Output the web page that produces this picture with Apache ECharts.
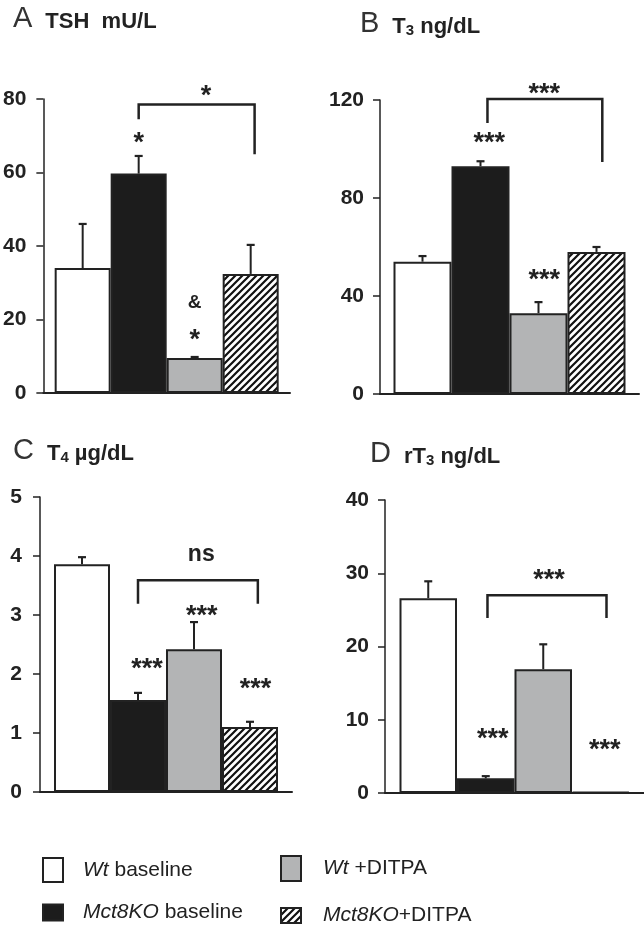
<!DOCTYPE html>
<html><head><meta charset="utf-8">
<script src="https://cdn.jsdelivr.net/npm/echarts@6/dist/echarts.min.js"></script>
<style>html,body{margin:0;padding:0;background:#fff}#c{width:644px;height:927px}</style>
</head><body><div id="c"></div>
<script>
// ---------- data ----------
const groups = ['Wt baseline', 'Mct8KO baseline', 'Wt +DITPA', 'Mct8KO+DITPA'];

const tshMean = [34, 59.7, 9.5, 32.4];
const tshSem  = [12, 4.8, 0.3, 7.9];
const t3Mean  = [54, 93, 33, 58];
const t3Sem   = [2.3, 2, 4.5, 2];
const t4Mean  = [3.86, 1.56, 2.42, 1.1];
const t4Sem   = [0.12, 0.12, 0.46, 0.09];
const rt3Mean = [26.6, 2.0, 16.9, 0.15];
const rt3Sem  = [2.3, 0.3, 3.4, 0];

// y-axis ranges [max, interval]
const tshAxis = [80, 20];
const t3Axis  = [120, 40];
const t4Axis  = [5, 1];
const rt3Axis = [40, 10];

// annotations: [bar position, y value, text]
const tshNotes = [[1, 69.7, '*'], [2.2, 82.7, '*'], [2, 24.5, '&'], [2, 16.3, '*']];
const t3Notes  = [[1.15, 105, '***'], [2.1, 125, '***'], [2.1, 49, '***']];
const t4Notes  = [[2.13, 4.02, 'ns'], [2.14, 3.1, '***'], [1.16, 2.2, '***'], [3.1, 1.85, '***']];
const rt3Notes = [[2.1, 30, '***'], [1.12, 8.3, '***'], [3.07, 6.7, '***']];

// brackets: [from bar pos, to bar pos, top y, left leg end y, right leg end y]
const tshBracket = [1, 3.07, 78.5, 74.5, 65];
const t3Bracket  = [1.12, 3.1, 120.4, 110.6, 94.7];
const t4Bracket  = [1, 3.14, 3.59, 3.19, 3.19];
const rt3Bracket = [1.03, 3.1, 27, 23.9, 23.9];

// ---------- styles ----------
const INK = '#222';
const FONT = '"Liberation Sans", Arial, Helvetica, sans-serif';

function hatch() {
  const s = 7, cv = document.createElement('canvas');
  cv.width = s; cv.height = s;
  const g = cv.getContext('2d');
  g.fillStyle = '#fff'; g.fillRect(0, 0, s, s);
  g.strokeStyle = '#111'; g.lineWidth = 2.2; g.lineCap = 'square';
  g.beginPath();
  g.moveTo(-s, 2 * s); g.lineTo(2 * s, -s);
  g.moveTo(-s, s); g.lineTo(s, -s);
  g.moveTo(0, 2 * s); g.lineTo(2 * s, 0);
  g.stroke();
  return { image: cv, repeat: 'repeat' };
}
const colors = ['#ffffff', '#1c1c1c', '#b3b4b5', hatch()];

const panels = [
  { mean: tshMean, sem: tshSem, axis: tshAxis, notes: tshNotes, br: tshBracket, grid: { left: 40, top: 99, width: 250, height: 294 }, bw: 56, lm: 17 },
  { mean: t3Mean, sem: t3Sem, axis: t3Axis, notes: t3Notes, br: t3Bracket, grid: { left: 380, top: 100, width: 259, height: 294 }, bw: 58, lm: 16 },
  { mean: t4Mean, sem: t4Sem, axis: t4Axis, notes: t4Notes, br: t4Bracket, grid: { left: 40, top: 497, width: 252, height: 295 }, bw: 56, lm: 18 },
  { mean: rt3Mean, sem: rt3Sem, axis: rt3Axis, notes: rt3Notes, br: rt3Bracket, grid: { left: 385, top: 500, width: 259, height: 293 }, bw: 57.5, lm: 16 }
];

const grid = [], xAxis = [], yAxis = [], series = [];
panels.forEach((p, k) => {
  grid.push(p.grid);
  xAxis.push({
    type: 'category', gridIndex: k, data: [''],
    axisLine: { lineStyle: { color: INK, width: 2 } },
    axisTick: { show: false }, axisLabel: { show: false }
  });
  yAxis.push({
    type: 'value', gridIndex: k, min: 0, max: p.axis[0], interval: p.axis[1],
    splitLine: { show: false },
    axisLine: { show: true, lineStyle: { color: INK, width: 1.5 } },
    axisTick: { show: true, length: 7, lineStyle: { color: INK, width: 1.5 } },
    axisLabel: { color: INK, fontSize: 21, fontWeight: 'bold', fontFamily: FONT, margin: p.lm }
  });
  groups.forEach((g, i) => {
    series.push({
      type: 'bar', name: g, xAxisIndex: k, yAxisIndex: k,
      data: [p.mean[i]], barWidth: p.bw, barGap: '0%',
      itemStyle: { color: colors[i], borderColor: INK, borderWidth: 2 }
    });
  });
  const bw = p.bw;
  // error bars
  series.push({
    type: 'custom', xAxisIndex: k, yAxisIndex: k, clip: false, z: 5,
    encode: { x: 0, y: 1 },
    data: p.mean.map((m, i) => [0, m, m + p.sem[i], i]),
    renderItem: (params, api) => {
      const c1 = api.coord([0, api.value(1)]);
      const c2 = api.coord([0, api.value(2)]);
      const x = c1[0] + (api.value(3) - 1.5) * bw;
      if (Math.abs(c1[1] - c2[1]) < 0.5) return;
      return {
        type: 'group', children: [
          { type: 'line', shape: { x1: x, y1: c1[1], x2: x, y2: c2[1] }, style: { stroke: INK, lineWidth: 2 } },
          { type: 'line', shape: { x1: x - 4, y1: c2[1], x2: x + 4, y2: c2[1] }, style: { stroke: INK, lineWidth: 2.2 } }
        ]
      };
    }
  });
  // bracket
  series.push({
    type: 'custom', xAxisIndex: k, yAxisIndex: k, clip: false, z: 5,
    encode: { x: 0, y: 1 },
    data: [[0, p.br[2], p.br[3], p.br[4], p.br[0], p.br[1]]],
    renderItem: (params, api) => {
      const cT = api.coord([0, api.value(1)]);
      const yL = api.coord([0, api.value(2)])[1];
      const yR = api.coord([0, api.value(3)])[1];
      const xl = cT[0] + (api.value(4) - 1.5) * bw;
      const xr = cT[0] + (api.value(5) - 1.5) * bw;
      return {
        type: 'polyline',
        shape: { points: [[xl, yL], [xl, cT[1]], [xr, cT[1]], [xr, yR]] },
        style: { stroke: INK, lineWidth: 2.5, fill: null }
      };
    }
  });
  // notes
  const notes = p.notes;
  series.push({
    type: 'custom', xAxisIndex: k, yAxisIndex: k, clip: false, z: 6,
    encode: { x: 0, y: 1 },
    data: notes.map(n => [0, n[1], n[0]]),
    renderItem: (params, api) => {
      const c = api.coord([0, api.value(1)]);
      const x = c[0] + (api.value(2) - 1.5) * bw;
      const t = notes[params.dataIndex][2];
      const star = t.indexOf('*') >= 0;
      return {
        type: 'text', x: x, y: c[1] + (star ? 7 : 0),
        style: {
          text: t, fill: INK, align: 'center', verticalAlign: 'middle',
          fontFamily: FONT, fontWeight: 'bold', fontSize: star ? 27 : (t === 'ns' ? 23 : 19)
        }
      };
    }
  });
});

const titleRich = {
  l: { fontSize: 29, lineHeight: 30, fontFamily: FONT, fontWeight: 'normal', color: '#333', verticalAlign: 'bottom' },
  b: { fontSize: 22, lineHeight: 26, fontFamily: FONT, fontWeight: 'bold', color: INK, verticalAlign: 'bottom', padding: [0, 0, 0, 13] },
  c: { fontSize: 22, lineHeight: 26, fontFamily: FONT, fontWeight: 'bold', color: INK, verticalAlign: 'bottom' },
  s: { fontSize: 15, lineHeight: 12, fontFamily: FONT, fontWeight: 'bold', color: INK, verticalAlign: 'bottom' }
};
function mkTitle(text, left, top) {
  return { text: text, left: left, top: top, padding: 0, textStyle: { fontWeight: 'normal', rich: titleRich } };
}

const legendRich = {
  i: { fontStyle: 'italic', fontSize: 21, fontFamily: FONT, color: INK }
};
function mkLegend(name, left, top, h, pad) {
  return {
    data: [name], left: left, top: top, padding: 0, selectedMode: false,
    itemWidth: 20, itemHeight: h, icon: 'rect',
    itemStyle: { borderColor: INK, borderWidth: 2 },
    formatter: n => n.replace(/^(Wt|Mct8KO)/, '{i|$1}'),
    textStyle: { fontSize: 21, fontFamily: FONT, color: INK, padding: [0, 0, 0, pad], rich: legendRich }
  };
}

const option = {
  animation: false,
  backgroundColor: '#fff',
  title: [
    mkTitle('{l|A}{b|TSH  mU/L}', 13, 3),
    mkTitle('{l|B}{b|T}{s|3}{c| ng/dL}', 360, 8),
    mkTitle('{l|C}{b|T}{s|4}{c| µg/dL}', 13, 435),
    mkTitle('{l|D}{b|rT}{s|3}{c| ng/dL}', 370, 438)
  ],
  legend: [
    mkLegend(groups[0], 42, 857, 24, 15),
    mkLegend(groups[1], 42, 902, 16, 15),
    mkLegend(groups[2], 280, 855, 25, 17),
    mkLegend(groups[3], 280, 905, 15, 17)
  ],
  grid: grid, xAxis: xAxis, yAxis: yAxis, series: series
};
const chart = echarts.init(document.getElementById('c'), null, { renderer: 'canvas' });
chart.setOption(option);
</script></body></html>
